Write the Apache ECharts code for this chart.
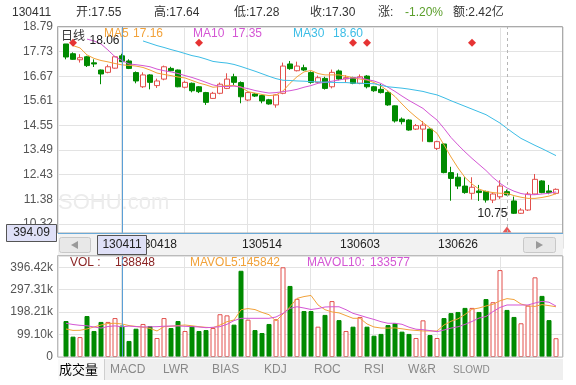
<!DOCTYPE html>
<html><head><meta charset="utf-8">
<script src="https://cdn.jsdelivr.net/npm/echarts@6/dist/echarts.min.js"></script>
<style>html,body{margin:0;padding:0;background:#fff}#c{width:576px;height:385px}</style>
</head><body><div id="c"></div>
<script>
const dates = ['130328','130329','130401','130402','130403','130408','130409','130410','130411','130412',
'130415','130416','130417','130418','130419','130422','130423','130424','130425','130426',
'130502','130503','130506','130507','130508','130509','130510','130513','130514','130515',
'130516','130517','130520','130521','130522','130523','130524','130527','130528','130529',
'130530','130531','130603','130604','130605','130606','130607','130613','130614','130617',
'130618','130619','130620','130621','130624','130625','130626','130627','130628','130701',
'130702','130703','130704','130705','130708','130709','130710','130711','130712','130715','130716'];

const open = [18.06,17.64,17.38,17.51,17.25,16.94,16.84,17.02,17.55,17.33,
16.83,16.22,16.73,16.27,16.55,17.01,16.94,16.20,16.37,16.22,
15.97,15.72,15.94,16.15,16.65,16.40,15.65,15.91,15.84,15.66,
15.44,15.94,17.20,16.91,17.04,16.83,16.41,16.58,16.22,16.90,
16.56,16.61,16.37,16.68,16.22,16.11,15.97,15.40,14.83,14.79,
14.40,14.40,14.40,13.57,13.76,12.53,12.33,11.95,11.64,11.74,
11.72,11.35,11.49,11.71,11.31,10.78,10.92,11.61,12.17,11.74,11.64];
const close = [17.50,17.40,17.47,17.13,17.20,16.77,17.08,17.51,17.30,17.01,
16.47,16.73,16.41,16.47,17.08,16.91,16.22,16.41,16.05,16.01,
15.55,15.94,16.33,16.55,16.41,15.79,15.97,15.82,15.61,15.48,
15.87,17.11,17.00,17.11,16.94,16.41,16.61,16.15,16.84,16.55,
16.61,16.37,16.65,16.22,16.05,15.97,15.44,14.75,14.72,14.36,
14.55,14.57,13.86,13.86,12.53,12.28,11.95,11.67,11.90,11.67,
11.35,11.61,11.95,11.57,10.78,10.92,11.61,12.24,11.67,11.67,11.81];
const low = [17.40,17.38,17.26,17.07,17.07,16.33,16.80,17.00,17.28,16.98,
16.37,16.17,16.11,16.17,16.50,16.88,16.20,16.15,15.98,15.95,
15.44,15.70,15.90,16.12,16.30,15.51,15.60,15.78,15.51,15.45,
15.32,15.90,16.95,16.88,16.90,16.35,16.35,16.10,16.15,16.50,
16.40,16.33,16.33,16.15,16.00,15.93,15.40,14.68,14.60,14.33,
14.36,13.86,13.84,13.50,12.50,11.32,11.82,11.62,11.37,11.31,
11.24,11.22,11.40,11.55,10.75,10.75,10.88,11.58,11.64,11.60,11.60];
const high = [18.06,17.70,17.62,17.55,17.40,16.96,17.17,17.55,17.64,17.40,
16.88,16.84,16.76,16.57,17.13,17.08,16.96,16.48,16.40,16.25,
16.00,16.00,16.40,16.80,16.78,16.45,16.00,15.95,15.88,15.70,
15.90,17.26,17.33,17.30,17.17,16.88,16.70,16.65,16.96,16.96,
16.72,16.65,16.75,16.72,16.25,16.34,16.02,15.42,14.90,14.82,
14.62,14.75,14.42,13.90,13.80,12.78,12.50,12.33,12.33,12.00,
11.75,11.65,12.20,11.80,11.50,11.00,11.70,12.47,12.20,12.00,11.85];

const ma5 = [null,17.99,17.89,17.59,17.44,17.35,17.29,17.22,17.16,17.14,
17.11,17.05,16.94,16.81,16.75,16.70,16.64,16.60,16.49,16.38,
16.30,16.20,16.23,16.28,16.27,16.21,16.01,15.95,15.89,15.84,
15.87,16.04,16.37,16.65,16.86,16.92,16.79,16.73,16.73,16.73,
16.68,16.61,16.55,16.51,16.40,16.25,16.04,15.80,15.48,15.18,
14.92,14.68,14.45,14.22,13.72,13.20,12.73,12.32,12.04,11.82,
11.72,11.67,11.64,11.64,11.54,11.47,11.42,11.42,11.46,11.52,11.62];
const ma10 = [null,null,null,18.27,18.19,18.06,17.80,17.51,17.35,17.20,
17.17,17.13,17.08,16.98,16.91,16.86,16.79,16.70,16.62,16.52,
16.41,16.30,16.24,16.23,16.25,16.20,16.14,16.06,16.00,15.95,
15.97,16.01,16.05,16.11,16.20,16.27,16.37,16.41,16.46,16.51,
16.57,16.60,16.61,16.53,16.47,16.36,16.20,16.02,15.82,15.63,
15.46,15.29,15.03,14.79,14.43,14.04,13.72,13.42,13.14,12.88,
12.62,12.32,12.07,11.87,11.73,11.63,11.58,11.58,11.61,11.64,11.70];
const ma30 = [null,null,null,null,null,null,null,null,null,null,
null,18.19,18.09,17.99,17.91,17.82,17.74,17.65,17.56,17.50,
17.41,17.31,17.27,17.24,17.18,17.09,16.99,16.89,16.78,16.67,
16.57,16.50,16.49,16.47,16.46,16.44,16.43,16.42,16.41,16.40,
16.40,16.38,16.37,16.36,16.35,16.28,16.22,16.19,16.16,16.12,
16.07,16.02,15.94,15.87,15.75,15.62,15.50,15.38,15.26,15.14,
15.02,14.84,14.66,14.43,14.21,14.00,13.85,13.70,13.56,13.41,13.26];

const volume = [159000,90000,88000,181000,115000,155000,155000,172000,138848,71000,
125000,146000,137000,84000,172000,128000,159000,115000,137000,115000,
119000,128000,189000,184000,143000,381000,165000,119000,106000,146000,
167000,396420,314000,257000,203000,203000,134000,186000,247000,163000,
115000,134000,177000,134000,94000,102000,141000,149000,112000,102000,
84000,162000,97000,84000,172000,194000,199000,217000,217000,199000,
256000,242000,384000,208000,177000,149000,227000,352000,270000,163000,83000];
const mavol5 = [123700,117500,118000,124000,132600,141400,148000,149000,145842,138800,
135000,131700,126000,115000,134000,136000,139000,141400,138000,134000,
131000,129500,141000,156000,163500,208600,214000,209500,197000,187000,
159000,190000,222000,259000,267000,272000,230000,209000,199000,195000,
183000,171000,171000,146000,132600,128000,127600,128600,124600,120000,
117500,115000,115000,115000,141400,157700,168800,187800,210800,216500,
225400,233000,248300,258000,254000,234000,226000,223600,231500,227000,222000];
const mavol10 = [149000,143600,140000,137900,132600,127700,134800,137400,133577,136500,
134300,132600,133500,134000,136000,137000,137000,135700,134300,132600,
129500,131200,134000,144500,160800,171000,171000,171000,171000,171000,
176800,193000,215000,222000,216500,210000,214000,221000,222000,222000,
209000,193000,184000,174500,166000,156000,149000,149000,144500,131700,
122800,120600,116700,111800,119300,127700,133500,144000,157000,172000,
179000,200600,219000,229800,229800,229800,229800,238600,246000,242000,225000];

const priceTicks = ['10.32','11.38','12.43','13.49','14.55','15.61','16.67','17.73','18.79'];
const volTicks = ['0','99.10k','198.21k','297.31k','396.42k'];
const navDates = ['130418','130514','130603','130626'];
const eventDates = ['130329','130426','130531','130604','130628'];
const eventLevel = 18.11;
const crossDate = '130411';
const lowMarkDate = '130705';
const lowMarkLevel = 10.08;
const maxPoint = ['130328', 18.06];
const minPoint = ['130708', 10.75];
const headerTexts = ['130411','开:17.55','高:17.64','低:17.28','收:17.30','涨:','-1.20%','额:2.42亿'];
const maLegend = [['MA5','17.16'],['MA10','17.35'],['MA30','18.60']];
const volLegend = [['VOL :','138848'],['MAVOL5:','145842'],['MAVOL10:','133577']];
const tabs = ['成交量','MACD','LWR','BIAS','KDJ','ROC','RSI','W&R','SLOWD'];

const FONT = '"Liberation Sans","Noto Sans CJK SC",Arial,sans-serif';
const RED = '#e2504c', GREEN = '#008a00';
const C_MA5 = '#f2a23a', C_MA10 = '#d456d4', C_MA30 = '#3cbde6';

const candle = dates.map((d, i) => [open[i], close[i], low[i], high[i]]);
const volData = volume.map((v, i) => {
  const up = close[i] >= open[i];
  return { value: v, itemStyle: { color: up ? '#fff' : GREEN, borderColor: up ? RED : GREEN, borderWidth: 1 } };
});

function T(x, y, text, fill, size, opts) {
  return Object.assign({ type: 'text', x: x, y: y, z: 120, silent: true,
    style: Object.assign({ text: text, fill: fill, font: size + 'px ' + FONT, verticalAlign: 'middle', align: 'left' }, (opts && opts.style) || {}) },
    (opts && opts.el) || {});
}

const hx = [12, 76, 154, 234, 310, 378, 405, 453];
const graphics = [];
graphics.push(T(58, 203, 'SOHU.com', '#ececec', 22, { el: { z: 1 } }));
headerTexts.forEach((t, i) => graphics.push(T(hx[i], 13, t, i === 6 ? '#5a9e2a' : '#333', 12)));
graphics.push(T(61, 37, '日线', '#333', 12));
const maCols = [C_MA5, C_MA10, C_MA30];
const maX = [[104, 133], [193, 232], [293, 333]];
maLegend.forEach((m, i) => { graphics.push(T(maX[i][0], 34, m[0], maCols[i], 12)); graphics.push(T(maX[i][1], 34, m[1], maCols[i], 12)); });
const vCols = ['#8b2525', C_MA5, C_MA10];
const vX = [[70, 115], [190, 240], [307, 370]];
volLegend.forEach((m, i) => { graphics.push(T(vX[i][0], 263, m[0], vCols[i], 12)); graphics.push(T(vX[i][1], 263, m[1], vCols[i], 12)); });

// frames
graphics.push({ type: 'rect', z: 40, silent: true, shape: { x: 57.5, y: 26.5, width: 505, height: 206.5 }, style: { fill: 'none', stroke: '#aaa', lineWidth: 1 } });
graphics.push({ type: 'rect', z: 40, silent: true, shape: { x: 57.5, y: 255.5, width: 505, height: 101.5 }, style: { fill: 'none', stroke: '#bbb', lineWidth: 1 } });
// nav bar
graphics.push({ type: 'rect', z: 50, silent: true, shape: { x: 58, y: 233, width: 505, height: 22 }, style: { fill: '#f2f2f2' } });
graphics.push({ type: 'line', z: 51, silent: true, shape: { x1: 58, y1: 233.5, x2: 563, y2: 233.5 }, style: { stroke: '#6aaad8', lineWidth: 1 } });
graphics.push({ type: 'rect', z: 51, silent: true, shape: { x: 59.5, y: 237.5, width: 31, height: 15, r: 2 }, style: { fill: '#e8e8e8', stroke: '#c8c8c8' } });
graphics.push({ type: 'rect', z: 51, silent: true, shape: { x: 523.5, y: 237.5, width: 32, height: 15, r: 2 }, style: { fill: '#e8e8e8', stroke: '#c8c8c8' } });
graphics.push({ type: 'polygon', z: 52, silent: true, shape: { points: [[71, 245], [78, 241], [78, 249]] }, style: { fill: '#9a9a9a' } });
graphics.push({ type: 'polygon', z: 52, silent: true, shape: { points: [[543, 245], [536, 241], [536, 249]] }, style: { fill: '#9a9a9a' } });
graphics.push({ type: 'rect', z: 100, silent: true, shape: { x: 97.5, y: 235.5, width: 49, height: 19 }, style: { fill: '#dfe0f7', stroke: '#555' } });
graphics.push(T(122, 245, crossDate, '#222', 12, { style: { align: 'center' } }));
graphics.push({ type: 'rect', z: 100, silent: true, shape: { x: 6.5, y: 224.5, width: 50, height: 17 }, style: { fill: '#dfe0f7', stroke: '#555' } });
graphics.push(T(31.5, 233, '394.09', '#222', 12, { style: { align: 'center' } }));
// tabs
graphics.push({ type: 'rect', z: 50, silent: true, shape: { x: 58, y: 359, width: 505, height: 21 }, style: { fill: '#efefef' } });
graphics.push({ type: 'rect', z: 51, silent: true, shape: { x: 58, y: 359, width: 46, height: 21 }, style: { fill: '#f9f9f9' } });
graphics.push({ type: 'line', z: 52, silent: true, shape: { x1: 104.5, y1: 359, x2: 104.5, y2: 380 }, style: { stroke: '#cfcfcf' } });
const tabX = [59, 110, 163, 212, 264, 314, 364, 408, 453];
tabs.forEach((t, i) => graphics.push(T(tabX[i], 370, t, i === 0 ? '#000' : '#888', i === 8 ? 10 : (i === 0 ? 13 : 12))));

const frameX = (g) => ({ gridIndex: g, type: 'value', min: 0, max: 8, interval: 1,
  axisLine: { show: false }, axisTick: { show: false }, axisLabel: { show: false },
  splitLine: { show: true, lineStyle: { color: '#e3e3e3' } } });

const option = {
  animation: false,
  backgroundColor: '#fff',
  grid: [
    { left: 58, top: 27, width: 505, height: 221.6 },
    { left: 62.5, top: 27, width: 497, height: 206 },
    { left: 58, top: 256, width: 505, height: 101 },
    { left: 62.5, top: 256, width: 497, height: 101 }
  ],
  xAxis: [
    frameX(0),
    { gridIndex: 1, type: 'category', data: dates, boundaryGap: true, z: 60,
      axisLine: { show: false }, axisTick: { show: false }, splitLine: { show: false },
      axisLabel: { show: true, interval: (i, v) => navDates.indexOf(v) >= 0, margin: 6, color: '#222', fontSize: 12, fontFamily: FONT } },
    frameX(2),
    { gridIndex: 3, type: 'category', data: dates, boundaryGap: true, show: false }
  ],
  yAxis: [
    { gridIndex: 0, type: 'value', min: 9.26125, max: 18.79, interval: 1.05875,
      axisLine: { show: false }, axisTick: { show: false },
      axisLabel: { showMinLabel: false, color: '#555', fontSize: 12, fontFamily: FONT, margin: 5, padding: [5, 0, 0, 0],
        formatter: (v) => { const k = Math.round((v - 10.32) / 1.05875); return (k >= 0 && k < priceTicks.length) ? priceTicks[k] : ''; } },
      splitLine: { show: true, lineStyle: { color: '#e3e3e3' } } },
    { gridIndex: 1, type: 'value', min: 9.9325, max: 18.79, show: false },
    { gridIndex: 2, type: 'value', min: 0, max: 446300, interval: 99105,
      axisLine: { show: false }, axisTick: { show: false },
      axisLabel: { showMaxLabel: false, color: '#555', fontSize: 12, fontFamily: FONT, margin: 5, padding: [2, 0, 0, 0],
        formatter: (v) => { const k = Math.round(v / 99105); return (k >= 0 && k < volTicks.length) ? volTicks[k] : ''; } },
      splitLine: { show: true, lineStyle: { color: '#e3e3e3' } } },
    { gridIndex: 3, type: 'value', min: 0, max: 446300, show: false }
  ],
  series: [
    { type: 'candlestick', xAxisIndex: 1, yAxisIndex: 1, data: candle, barWidth: 5,
      itemStyle: { color: '#fff', color0: GREEN, borderColor: RED, borderColor0: GREEN, borderWidth: 1 },
      markLine: { silent: true, symbol: ['none', 'none'], label: { show: false },
        lineStyle: { color: '#5b9fd6', width: 1, type: 'solid' }, data: [{ xAxis: crossDate }] },
      markPoint: { silent: true, symbol: 'circle', symbolSize: 1, itemStyle: { color: 'rgba(0,0,0,0)' },
        label: { show: true, color: '#222', fontSize: 12, fontFamily: FONT, formatter: (p) => p.value.toFixed(2) },
        data: [
          { coord: maxPoint, value: maxPoint[1], label: { position: 'right', offset: [18, -3] } },
          { coord: minPoint, value: minPoint[1], label: { position: 'left', offset: [-1, 0] } }
        ] } },
    { type: 'line', name: 'MA5', xAxisIndex: 1, yAxisIndex: 1, data: ma5, showSymbol: false, lineStyle: { color: C_MA5, width: 1 }, z: 3 },
    { type: 'line', name: 'MA10', xAxisIndex: 1, yAxisIndex: 1, data: ma10, showSymbol: false, lineStyle: { color: C_MA10, width: 1 }, z: 3 },
    { type: 'line', name: 'MA30', xAxisIndex: 1, yAxisIndex: 1, data: ma30, showSymbol: false, lineStyle: { color: C_MA30, width: 1 }, z: 3 },
    { type: 'scatter', xAxisIndex: 1, yAxisIndex: 1, symbol: 'diamond', symbolSize: [8, 8],
      itemStyle: { color: '#e00000' }, data: eventDates.map(d => [d, eventLevel]), z: 4 },
    { type: 'scatter', xAxisIndex: 1, yAxisIndex: 1, symbol: 'triangle', symbolSize: [9, 6],
      itemStyle: { color: '#e03030' }, data: [[lowMarkDate, lowMarkLevel]], z: 4,
      markLine: { silent: true, symbol: ['none', 'none'], label: { show: false },
        lineStyle: { color: '#b5b5b5', width: 1, type: [3, 3] }, data: [{ xAxis: lowMarkDate }] } },
    { type: 'bar', xAxisIndex: 3, yAxisIndex: 3, data: volData, barWidth: 5,
      markLine: { silent: true, symbol: ['none', 'none'], label: { show: false },
        lineStyle: { color: '#5b9fd6', width: 1, type: 'solid' }, data: [{ xAxis: crossDate }] } },
    { type: 'line', xAxisIndex: 3, yAxisIndex: 3, data: mavol5, showSymbol: false, lineStyle: { color: C_MA5, width: 1 }, z: 3 },
    { type: 'line', xAxisIndex: 3, yAxisIndex: 3, data: mavol10, showSymbol: false, lineStyle: { color: C_MA10, width: 1 }, z: 3 }
  ],
  graphic: graphics
};
const chart = echarts.init(document.getElementById('c'));
chart.setOption(option);
</script></body></html>
